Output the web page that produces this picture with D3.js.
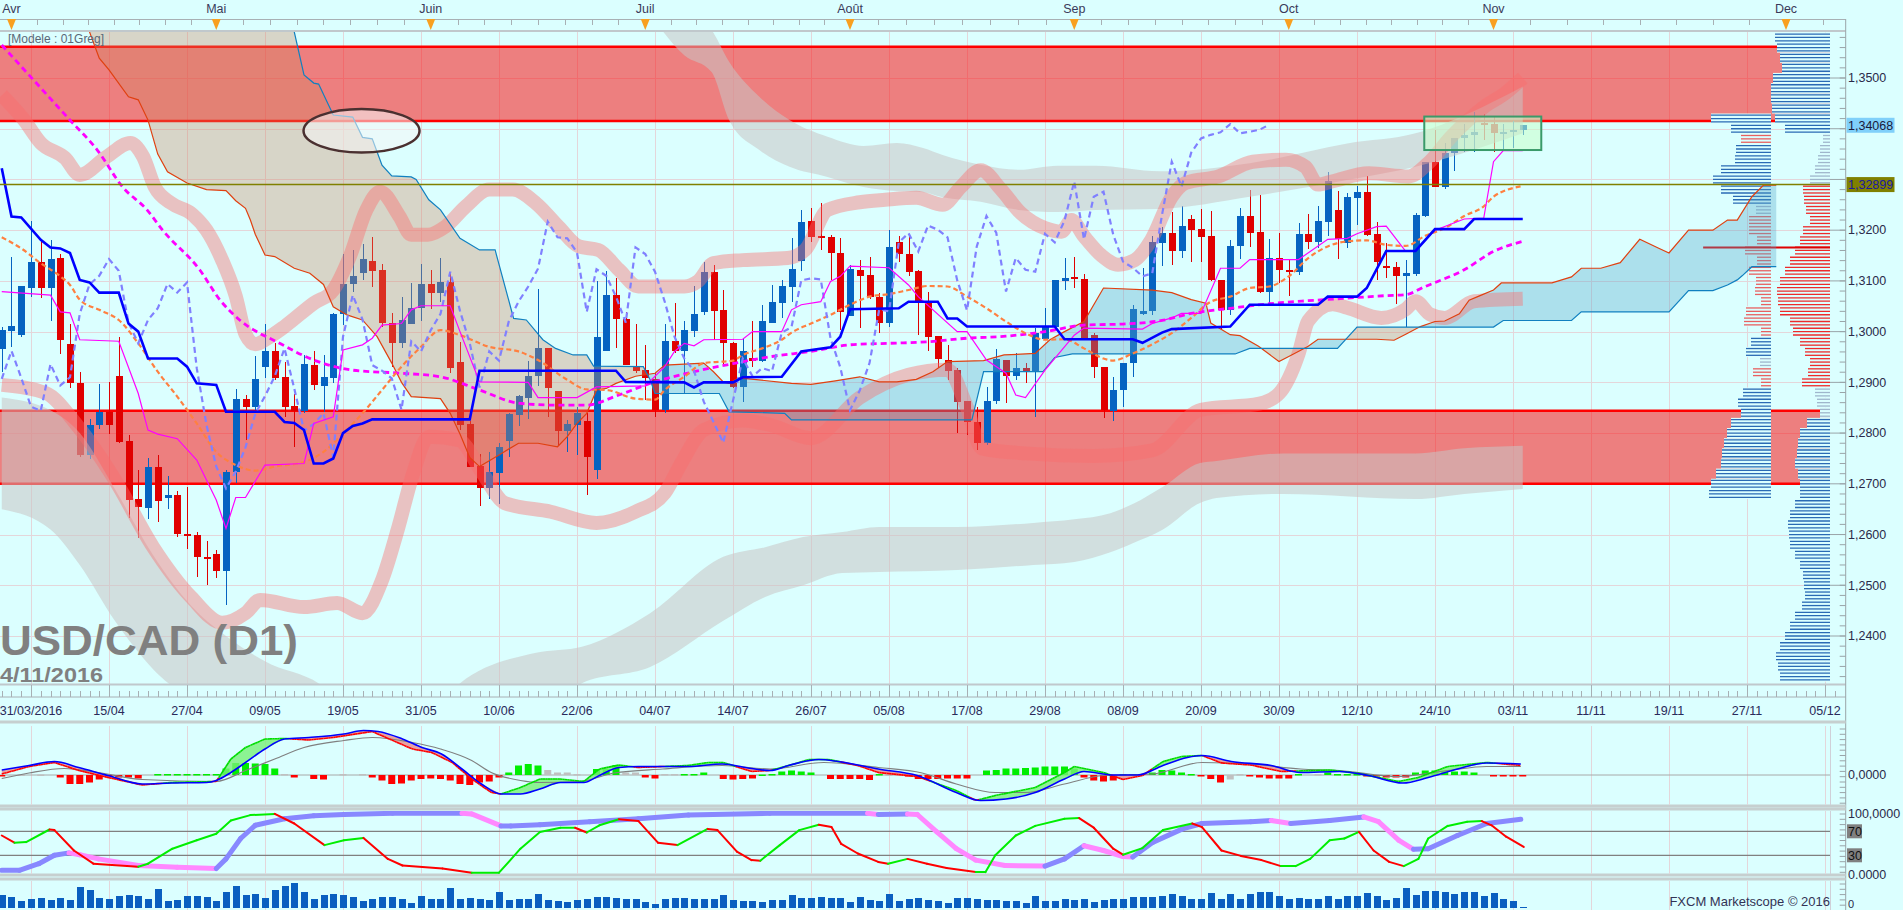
<!DOCTYPE html>
<html>
<head>
<meta charset="utf-8" />
<title>USD/CAD (D1)</title>
<script src="https://d3js.org/d3.v7.min.js"></script>
<style>
  body { margin: 0; background: #dbffff; overflow: hidden; }
  svg { display: block; }
  text { font-family: "Liberation Sans", Arial, sans-serif; }
</style>
</head>
<body>
<svg width="1903" height="910"></svg>
<script>
// ---------- data (bar index 0 = first visible candle) ----------
const dateLabels = [[3,"31/03/2016"],[11,"15/04"],[19,"27/04"],[27,"09/05"],[35,"19/05"],[43,"31/05"],
  [51,"10/06"],[59,"22/06"],[67,"04/07"],[75,"14/07"],[83,"26/07"],[91,"05/08"],[99,"17/08"],
  [107,"29/08"],[115,"08/09"],[123,"20/09"],[131,"30/09"],[139,"12/10"],[147,"24/10"],[155,"03/11"],
  [163,"11/11"],[171,"19/11"],[179,"27/11"],[187,"05/12"]];
const monthMarks = [[1,"Avr"],[22,"Mai"],[44,"Juin"],[66,"Juil"],[87,"Août"],[110,"Sep"],[132,"Oct"],[153,"Nov"],[183,"Dec"]];

const openP = [1.2965,1.3002,1.2993,1.3087,1.3137,1.3087,1.3145,1.2975,1.2898,1.2757,
1.2816,1.2842,1.2912,1.2784,1.2670,1.2653,1.2734,1.2673,1.2678,1.2602,
1.2599,1.2556,1.2561,1.2528,1.2724,1.2868,1.2852,1.2930,1.2962,1.2910,
1.2853,1.2844,1.2934,1.2893,1.2909,1.3035,1.3093,1.3115,1.3139,1.3122,
1.3018,1.2978,1.3016,1.3046,1.3094,1.3077,1.3097,1.2941,1.2818,1.2735,
1.2691,1.2722,1.2785,1.2836,1.2870,1.2912,1.2967,1.2882,1.2805,1.2816,
1.2823,1.2728,1.2962,1.3072,1.3024,1.2932,1.2924,1.2906,1.2846,1.2981,
1.2961,1.3001,1.3039,1.3118,1.3043,1.2977,1.2890,1.2949,1.2943,1.3017,
1.3057,1.3088,1.3140,1.3219,1.3188,1.3186,1.3156,1.3030,1.3122,1.3112,
1.3068,1.3018,1.3176,1.3153,1.3120,1.3059,1.2991,1.2945,1.2924,1.2864,
1.2822,1.2781,1.2864,1.2945,1.2912,1.2928,1.2922,1.2985,1.3010,1.3099,
1.3107,1.3103,1.2993,1.2930,1.2844,1.2884,1.2938,1.3035,1.3040,1.3174,
1.3194,1.3158,1.3222,1.3202,1.3188,1.3102,1.3042,1.3169,1.3228,1.3197,
1.3079,1.3145,1.3122,1.3118,1.3193,1.3176,1.3217,1.3240,1.3174,1.3264,
1.3276,1.3193,1.3130,1.3128,1.3109,1.3114,1.3227,1.3335,1.3286,1.3352,
1.3381,1.3388,1.3411,1.3410,1.3391,1.3393,1.3398];
const highP = [1.3010,1.3147,1.3089,1.3218,1.3178,1.3181,1.3153,1.3015,1.2920,1.2827,
1.2896,1.2901,1.2989,1.2796,1.2728,1.2750,1.2757,1.2715,1.2686,1.2693,
1.2605,1.2587,1.2569,1.2727,1.2886,1.2875,1.2952,1.3016,1.2978,1.2941,
1.2878,1.2954,1.2961,1.2954,1.3036,1.3153,1.3161,1.3172,1.3186,1.3133,
1.3036,1.3069,1.3095,1.3134,1.3122,1.3145,1.3117,1.2980,1.2823,1.2759,
1.2763,1.2780,1.2839,1.2875,1.2943,1.3084,1.2967,1.2882,1.2826,1.2852,
1.2839,1.3099,1.3120,1.3105,1.3039,1.3015,1.2974,1.2918,1.3016,1.3056,
1.3020,1.3090,1.3138,1.3132,1.3082,1.2980,1.2987,1.3020,1.3053,1.3092,
1.3101,1.3184,1.3240,1.3243,1.3253,1.3191,1.3184,1.3132,1.3141,1.3148,
1.3076,1.3201,1.3189,1.3189,1.3122,1.3079,1.2991,1.2974,1.2928,1.2864,
1.2852,1.2891,1.2965,1.2945,1.2957,1.2939,1.3007,1.3046,1.3102,1.3145,
1.3147,1.3114,1.2997,1.2930,1.2911,1.2938,1.3053,1.3125,1.3189,1.3206,
1.3235,1.3248,1.3230,1.3241,1.3237,1.3102,1.3181,1.3243,1.3280,1.3270,
1.3182,1.3194,1.3142,1.3214,1.3232,1.3248,1.3314,1.3278,1.3273,1.3287,
1.3307,1.3217,1.3174,1.3138,1.3142,1.3234,1.3335,1.3398,1.3371,1.3381,
1.3410,1.3432,1.3429,1.3425,1.3410,1.3416,1.3408];
const lowP = [1.2920,1.2970,1.2990,1.3069,1.3066,1.3020,1.2955,1.2888,1.2753,1.2749,
1.2809,1.2799,1.2780,1.2632,1.2594,1.2630,1.2624,1.2651,1.2595,1.2572,
1.2516,1.2500,1.2515,1.2462,1.2701,1.2787,1.2845,1.2908,1.2905,1.2832,
1.2773,1.2839,1.2885,1.2841,1.2898,1.3013,1.3079,1.3102,1.3088,1.3010,
1.2931,1.2967,1.3016,1.3020,1.3044,1.3059,1.2918,1.2806,1.2734,1.2657,
1.2671,1.2661,1.2752,1.2814,1.2827,1.2893,1.2832,1.2776,1.2763,1.2757,
1.2677,1.2710,1.2962,1.2967,1.2934,1.2919,1.2865,1.2832,1.2839,1.2957,
1.2880,1.2990,1.3033,1.2984,1.2937,1.2888,1.2862,1.2931,1.2941,1.3017,
1.3026,1.3059,1.3120,1.3176,1.3161,1.3102,1.3003,1.3030,1.3007,1.3064,
1.2998,1.3010,1.3138,1.3110,1.2993,1.2961,1.2928,1.2905,1.2801,1.2796,
1.2766,1.2776,1.2857,1.2860,1.2905,1.2899,1.2832,1.2984,1.3003,1.3082,
1.3086,1.2987,1.2908,1.2829,1.2824,1.2852,1.2911,1.3033,1.3033,1.3130,
1.3132,1.3145,1.3138,1.3138,1.3099,1.3004,1.3033,1.3143,1.3166,1.3076,
1.3051,1.3096,1.3071,1.3112,1.3163,1.3165,1.3188,1.3143,1.3165,1.3211,
1.3188,1.3102,1.3105,1.3055,1.3009,1.3109,1.3226,1.3285,1.3281,1.3316,
1.3355,1.3355,1.3377,1.3355,1.3360,1.3362,1.3388];
const closeP = [1.3004,1.3011,1.3089,1.3138,1.3087,1.3143,1.2984,1.2898,1.2757,1.2816,
1.2842,1.2815,1.2783,1.2668,1.2655,1.2734,1.2666,1.2678,1.2601,1.2597,
1.2555,1.2551,1.2528,1.2724,1.2868,1.2852,1.2907,1.2962,1.2909,1.2852,
1.2844,1.2936,1.2894,1.2910,1.3035,1.3093,1.3110,1.3143,1.3120,1.3018,
1.2977,1.3023,1.3046,1.3094,1.3077,1.3097,1.2928,1.2816,1.2734,1.2691,
1.2724,1.2772,1.2838,1.2873,1.2912,1.2967,1.2888,1.2805,1.2818,1.2839,
1.2753,1.2990,1.3072,1.3024,1.2934,1.2923,1.2908,1.2846,1.2981,1.2961,
1.3003,1.3035,1.3118,1.3041,1.2977,1.2890,1.2961,1.2943,1.3020,1.3059,
1.3089,1.3124,1.3217,1.3186,1.3184,1.3156,1.3039,1.3123,1.3110,1.3069,
1.3018,1.3166,1.3153,1.3118,1.3059,1.2990,1.2947,1.2923,1.2862,1.2822,
1.2781,1.2864,1.2947,1.2912,1.2928,1.2922,1.2998,1.3009,1.3101,1.3105,
1.3103,1.2987,1.2930,1.2845,1.2884,1.2938,1.3044,1.3040,1.3176,1.3194,
1.3158,1.3209,1.3201,1.3186,1.3101,1.3042,1.3168,1.3228,1.3195,1.3079,
1.3145,1.3122,1.3118,1.3193,1.3176,1.3219,1.3296,1.3182,1.3266,1.3276,
1.3191,1.3138,1.3126,1.3109,1.3115,1.3230,1.3335,1.3286,1.3353,1.3381,
1.3388,1.3393,1.3409,1.3391,1.3394,1.3398,1.3408];

// ichimoku lines, [bar, price]
const kijun = [[0,1.3322],[1,1.3227],[2,1.3225],[4,1.3181],[5,1.3166],[6,1.3164],[7,1.3155],[8,1.3102],[9,1.3097],[10,1.3077],[12,1.3077],[13,1.3016],[14,1.3000],[15,1.2947],[18,1.2947],[19,1.2931],[20,1.2898],[22,1.2895],[23,1.2842],[28,1.2842],[29,1.2822],[30,1.2820],[31,1.2806],[32,1.2740],[33,1.2740],[34,1.2750],[35,1.2800],[36,1.2814],[37,1.2819],[38,1.2827],[48,1.2827],[49,1.2923],[63,1.2923],[64,1.2901],[70,1.2900],[71,1.2890],[72,1.2900],[75,1.2900],[76,1.2910],[80,1.2911],[82,1.2961],[85,1.2969],[86,1.2990],[87,1.3044],[92,1.3046],[93,1.3059],[96,1.3059],[97,1.3026],[98,1.3026],[99,1.3010],[108,1.3010],[109,1.2985],[116,1.2985],[117,1.2978],[119,1.2998],[120,1.3005],[126,1.3010],[128,1.3053],[135,1.3053],[136,1.3069],[139,1.3069],[140,1.3086],[142,1.3159],[145,1.3159],[147,1.3202],[150,1.3202],[151,1.3222],[156,1.3222]];
const tenkan = [[0,1.3079],[5,1.3072],[6,1.3039],[7,1.3037],[8,1.2984],[12,1.2981],[14,1.2878],[15,1.2806],[16,1.2798],[18,1.2789],[20,1.2747],[22,1.2668],[23,1.2612],[24,1.2673],[25,1.2673],[27,1.2737],[31,1.2740],[32,1.2819],[34,1.2832],[35,1.2964],[37,1.2974],[38,1.2987],[39,1.3013],[41,1.3016],[42,1.3043],[43,1.3051],[46,1.3051],[47,1.3000],[49,1.2901],[54,1.2900],[55,1.2870],[59,1.2870],[61,1.2891],[66,1.2893],[68,1.2931],[69,1.2961],[70,1.2977],[71,1.2972],[72,1.2984],[76,1.2985],[77,1.3000],[80,1.3000],[81,1.3043],[82,1.3053],[84,1.3059],[85,1.3099],[86,1.3109],[87,1.3129],[91,1.3126],[93,1.3092],[94,1.3069],[98,1.3000],[99,1.3000],[101,1.2944],[103,1.2918],[104,1.2875],[105,1.2870],[107,1.2924],[110,1.2993],[111,1.3007],[117,1.3005],[118,1.3016],[120,1.3027],[121,1.3036],[123,1.3036],[125,1.3125],[127,1.3125],[128,1.3142],[133,1.3142],[136,1.3182],[138,1.3184],[139,1.3193],[141,1.3207],[142,1.3208],[144,1.3158],[145,1.3159],[147,1.3200],[150,1.3222],[152,1.3224],[153,1.3335],[154,1.3357],[156,1.3357]];
const senkouA = [[0,1.3750],[8,1.3620],[9,1.3591],[10,1.3539],[11,1.3516],[13,1.3463],[14,1.3457],[15,1.3417],[16,1.3350],[17,1.3315],[19,1.3293],[21,1.3280],[23,1.3278],[24,1.3258],[25,1.3243],[25.5,1.3220],[26,1.3192],[27,1.3151],[28,1.3148],[30,1.3125],[31.6,1.3115],[33,1.3093],[34,1.3049],[35.4,1.3033],[37,1.3023],[38.5,1.2990],[40,1.2938],[41,1.2900],[42,1.2872],[45,1.2868],[46,1.2839],[47,1.2798],[48,1.2752],[49,1.2734],[51,1.2757],[53,1.2780],[55,1.2780],[57,1.2773],[58,1.2793],[59,1.2819],[60,1.2839],[61,1.2885],[62,1.2888],[63,1.2898],[65,1.2912],[67,1.2918],[68,1.2934],[72,1.2938],[73,1.2921],[74,1.2901],[74.6,1.2898],[75.6,1.2909],[81,1.2898],[83,1.2896],[85.5,1.2903],[88,1.2911],[90,1.2901],[91.8,1.2901],[93.8,1.2906],[95.5,1.2921],[97,1.2941],[100.7,1.2943],[102.8,1.2954],[106,1.2957],[107.5,1.2984],[109,1.3000],[111,1.3020],[113,1.3086],[118,1.3082],[120,1.3077],[122,1.3063],[123.5,1.3056],[124,1.3017],[126,1.2994],[127,1.2992],[128.9,1.2971],[131,1.2941],[132,1.2951],[134,1.2971],[135,1.2985],[141,1.2985],[142.8,1.2983],[144,1.2995],[145.5,1.3010],[147,1.3020],[148,1.3021],[149.5,1.3035],[150.5,1.3062],[151.5,1.3070],[153,1.3082],[153.8,1.3096],[159,1.3096],[161,1.3108],[162,1.3125],[164,1.3125],[166,1.3136],[168,1.3182],[170,1.3164],[171,1.3155],[173,1.3200],[175.5,1.3200],[177,1.3220],[178,1.3220],[179.5,1.3266],[180.7,1.3289],[182,1.3289]];
const senkouB = [[0,1.3800],[29,1.3700],[30,1.3591],[31,1.3506],[32,1.3490],[32.5,1.3488],[34,1.3427],[36,1.3423],[37,1.3383],[38,1.3380],[39,1.3328],[40,1.3307],[42,1.3305],[42.5,1.3300],[43.8,1.3260],[45,1.3240],[47,1.3184],[49,1.3161],[50.6,1.3161],[52.5,1.3026],[53.8,1.3023],[55.5,1.2984],[56.8,1.2967],[58.6,1.2954],[60,1.2954],[60.7,1.2932],[65.8,1.2931],[66.5,1.2905],[67,1.2878],[73.6,1.2878],[74.6,1.2842],[80.3,1.2839],[81,1.2826],[99.5,1.2826],[100.7,1.2921],[106.8,1.2921],[108,1.2949],[109.8,1.2956],[126.5,1.2956],[128,1.2967],[137,1.2967],[139,1.3009],[153,1.3009],[154,1.3022],[161,1.3022],[162,1.3039],[171,1.3039],[173,1.3081],[175.5,1.3081],[177,1.3092],[178,1.3102],[178.5,1.3110],[179.5,1.3128],[182,1.3128]];

// moving averages
const maOrange = [[0,1.3186],[2,1.3164],[4,1.3135],[6,1.3109],[7,1.3092],[8,1.3063],[10,1.3043],[12,1.3023],[14,1.2977],[16,1.2921],[18,1.2872],[20,1.2819],[22,1.2763],[24,1.2737],[26,1.2726],[28,1.2734],[31,1.2743],[33,1.2763],[35,1.2799],[37,1.2839],[39,1.2885],[41,1.2931],[43,1.2970],[45,1.3003],[47,1.2993],[50,1.2970],[53,1.2961],[55,1.2944],[58,1.2905],[60,1.2886],[62,1.2885],[65,1.2868],[67,1.2866],[68,1.2885],[70,1.2911],[72,1.2938],[75,1.2943],[76,1.2954],[78,1.2967],[80,1.2984],[81,1.2998],[83,1.3016],[85,1.3033],[87,1.3053],[89,1.3069],[91,1.3074],[93,1.3082],[95,1.3090],[97,1.3089],[99,1.3069],[101,1.3046],[103,1.3020],[105,1.2997],[107,1.2984],[109,1.2985],[111,1.2967],[113,1.2947],[114,1.2943],[116,1.2957],[118,1.2975],[120,1.2997],[122,1.3027],[124,1.3059],[126,1.3069],[128,1.3086],[130,1.3089],[132,1.3109],[134,1.3145],[136,1.3168],[138,1.3178],[140,1.3180],[142,1.3171],[144,1.3169],[146,1.3189],[148,1.3204],[150,1.3228],[152,1.3247],[153,1.3266],[156,1.3287]];
const maMagenta = [[0,1.3565],[7,1.3417],[9.8,1.3358],[12.4,1.3285],[14.9,1.3240],[16.5,1.3200],[20.3,1.3122],[22.4,1.3062],[24.4,1.3023],[28.5,1.2977],[32,1.2944],[36,1.2924],[41,1.2918],[45,1.2911],[49,1.2885],[53,1.2859],[57,1.2855],[60,1.2855],[63,1.2873],[67,1.2901],[71,1.2921],[75,1.2937],[79,1.2951],[83,1.2961],[87,1.2974],[91,1.2977],[95,1.2980],[99,1.2987],[103,1.2991],[107,1.3000],[111,1.3013],[115,1.3015],[119,1.3022],[122,1.3036],[126,1.3046],[130,1.3055],[134,1.3061],[138,1.3066],[142,1.3071],[144,1.3073],[146,1.3089],[150,1.3122],[153,1.3158],[156,1.3178]];

// envelope bands: pink = [bar, centre], gray = [bar, top, bottom]
const pinkUpper = [[0,1.3466],[2.3,1.3417],[4,1.3372],[6.5,1.3342],[8,1.3309],[10.7,1.3344],[13.2,1.3372],[14.5,1.3345],[15.7,1.3285],[17.4,1.3253],[19.5,1.3232],[21,1.3200],[22.6,1.3141],[24,1.3070],[25,1.2995],[26,1.2975],[27.5,1.2990],[29,1.3010],[32,1.3056],[34,1.3082],[35.7,1.3148],[37.4,1.3240],[38.8,1.3276],[40.8,1.3227],[42,1.3191],[43.7,1.3191],[45.5,1.3207],[47.6,1.3247],[50,1.3280],[52.4,1.3280],[54.8,1.3253],[57.1,1.3207],[59.2,1.3168],[61.2,1.3161],[63.3,1.3122],[65.3,1.3089],[70,1.3089],[71.4,1.3099],[73,1.3135],[76,1.3141],[80.6,1.3145],[82.4,1.3161],[84.7,1.3240],[88,1.3255],[90.6,1.3260],[93.8,1.3264],[96.5,1.3250],[98.4,1.3286],[100.4,1.3318],[102.5,1.3280],[104.5,1.3234],[107,1.3204],[108.7,1.3197],[109.7,1.3220],[111,1.3188],[112.8,1.3150],[114.5,1.3132],[116.2,1.3141],[117.9,1.3181],[120,1.3266],[121.4,1.3293],[124.8,1.3306],[128.3,1.3335],[131.7,1.3339],[133.7,1.3325],[135,1.3290],[136.4,1.3296],[140.2,1.3312],[144.3,1.3306],[146.3,1.3332],[148.7,1.3385],[150.4,1.3417],[152.1,1.3444],[154.2,1.3470],[156,1.3500]];
const pinkLower = [[0,1.2895],[4.5,1.2879],[7.7,1.2816],[11.6,1.2708],[15.5,1.2576],[19.4,1.2477],[22.6,1.2426],[25,1.2445],[26.5,1.2471],[31,1.2457],[34.4,1.2465],[37,1.2445],[39,1.2510],[40.6,1.2609],[42.2,1.2721],[43.8,1.2793],[46.9,1.2786],[49.3,1.2721],[51.6,1.2662],[56.3,1.2645],[61,1.2623],[65,1.2645],[68,1.2682],[69.7,1.2741],[72,1.2806],[76,1.2825],[79,1.2815],[83,1.2790],[88,1.2870],[93,1.2915],[97,1.2925],[99,1.2850],[100.5,1.2770],[105,1.2760],[112,1.2755],[118,1.2766],[123,1.2846],[129,1.2858],[131,1.2878],[133,1.2956],[134,1.3021],[136.5,1.3054],[138,1.3047],[141.5,1.3027],[144,1.3044],[145,1.3060],[146.5,1.3034],[148,1.3027],[151,1.3060],[156,1.3065]];
const grayUpper = [[66,1.3760,1.3640],[70,1.3644,1.3545],[72.8,1.3595,1.3512],[74.6,1.3532,1.3417],[77.7,1.3463,1.3358],[80.8,1.3417,1.3325],[84.7,1.3384,1.3305],[88.4,1.3366,1.3285],[91.8,1.3372,1.3277],[94.5,1.3362,1.3275],[96.5,1.3348,1.3265],[100.4,1.3329,1.3256],[104.3,1.3319,1.3240],[108.3,1.3327,1.3236],[112.2,1.3327,1.3240],[118.8,1.3316,1.3242],[128,1.3332,1.3266],[138,1.3371,1.3299],[145,1.3391,1.3325],[152,1.3444,1.3365],[156,1.3483,1.3391]];
const grayLower = [[0,1.2870,1.2650],[5,1.2845,1.2610],[8,1.2800,1.2540],[11.6,1.2690,1.2430],[15.5,1.2560,1.2335],[19.4,1.2460,1.2270],[23,1.2400,1.2200],[27,1.2350,1.2150],[33,1.2300,1.2100],[38,1.2200,1.2000],[44,1.2220,1.2050],[47,1.2307,1.2170],[54.8,1.2367,1.2240],[59.5,1.2379,1.2307],[66.5,1.2445,1.2339],[74,1.2556,1.2430],[78.3,1.2575,1.2477],[82.2,1.2595,1.2500],[86.2,1.2605,1.2524],[90,1.2615,1.2526],[98,1.2615,1.2530],[105.8,1.2623,1.2540],[110,1.2630,1.2546],[113.7,1.2642,1.2565],[116,1.2660,1.2583],[119.1,1.2694,1.2610],[122.9,1.2741,1.2662],[124.6,1.2745,1.2672],[131.4,1.2760,1.2680],[145,1.2760,1.2670],[150,1.2770,1.2680],[156,1.2775,1.2690]];

// horizontal zones and levels
const redZones = [[1.35617, 1.34152], [1.28442, 1.27000]];
const pivotLevel = 1.32899;
const lastPrice = 1.34068;
const pocLevel = [174.5, 1.3166];
const ellipseNote = {bar: 36.9, price: 1.3396, halfBars: 5.95, halfPrice: 0.0043};
const boxNote = {bar0: 145.9, bar1: 157.9, top: 1.3424, bottom: 1.3358};

// volume profiles [price, volume, kind] (b blue, g light, r red)
const profileRight = [[1.358,55,"b"],[1.356,53,"b"],[1.354,50,"b"],[1.352,48,"b"],[1.350,57,"b"],[1.348,59,"b"],[1.346,59,"b"],[1.344,58,"b"],[1.342,55,"b"],[1.340,45,"b"],
[1.338,7,"g"],[1.336,10,"g"],[1.334,12,"g"],[1.332,15,"g"],[1.330,20,"g"],[1.328,27,"r"],[1.326,26,"r"],[1.324,24,"r"],[1.322,20,"r"],[1.320,27,"r"],
[1.318,30,"r"],[1.316,35,"r"],[1.314,40,"r"],[1.312,45,"r"],[1.310,50,"r"],[1.308,53,"r"],[1.306,52,"r"],[1.304,50,"r"],[1.302,40,"r"],[1.300,37,"r"],
[1.298,30,"r"],[1.296,25,"r"],[1.294,20,"r"],[1.292,22,"r"],[1.290,28,"r"],[1.288,15,"g"],[1.286,13,"g"],[1.284,10,"g"],[1.282,23,"b"],[1.280,30,"b"],
[1.278,32,"b"],[1.276,33,"b"],[1.274,35,"b"],[1.272,32,"b"],[1.270,30,"b"],[1.268,30,"b"],[1.266,35,"b"],[1.264,40,"b"],[1.262,42,"b"],[1.260,41,"b"],
[1.258,40,"b"],[1.256,35,"b"],[1.254,30,"b"],[1.252,27,"b"],[1.250,26,"b"],[1.248,25,"b"],[1.246,28,"b"],[1.244,35,"b"],[1.242,40,"b"],[1.240,45,"b"],
[1.238,50,"b"],[1.236,54,"b"],[1.234,52,"b"],[1.232,50,"b"]];
const profileLeft = [[1.342,60,"b"],[1.340,40,"b"],[1.338,30,"r"],[1.336,35,"b"],[1.334,36,"b"],[1.332,50,"b"],[1.330,58,"b"],[1.328,50,"b"],[1.326,38,"b"],[1.324,15,"g"],
[1.322,22,"r"],[1.320,22,"r"],[1.318,14,"r"],[1.316,26,"r"],[1.314,14,"r"],[1.312,22,"r"],[1.310,15,"r"],[1.308,16,"r"],[1.306,10,"r"],[1.304,25,"r"],
[1.302,27,"r"],[1.300,10,"r"],[1.298,20,"b"],[1.296,25,"b"],[1.294,11,"g"],[1.292,18,"r"],[1.290,10,"r"],[1.288,28,"b"],[1.286,33,"b"],[1.284,30,"b"],
[1.282,40,"b"],[1.280,44,"b"],[1.278,47,"b"],[1.276,49,"b"],[1.274,50,"b"],[1.272,55,"b"],[1.270,60,"b"],[1.268,62,"b"]];

// MACD panel
const macdLine = [[0,0.0010],[2.8,0.0019],[5.4,0.0027],[7.9,0.0015],[10.9,-0.0001],[14.4,-0.0018],[17.4,-0.0016],[21,-0.0015],[22,-0.0011],[23.5,0.0005],[25,0.0025],[27,0.0052],[29,0.0072],[31.5,0.0075],[35.1,0.0082],[37.1,0.0089],[38.6,0.0087],[41.1,0.0072],[43.1,0.0055],[45.1,0.0042],[47.2,0.0012],[49.2,-0.0018],[51.2,-0.0038],[53.2,-0.0038],[55.2,-0.0028],[57.3,-0.0015],[59.7,-0.0015],[61.3,-0.0001],[63.3,0.0015],[65.3,0.0017],[70.4,0.0017],[73.9,0.0022],[76.9,0.0013],[78.8,0.0009],[80.7,0.0019],[83.8,0.0031],[85.8,0.0027],[89.9,0.0012],[93.9,-0.0001],[97.9,-0.0035],[100.4,-0.0051],[103,-0.0048],[106,-0.0035],[109,-0.0008],[111,0.0007],[114,0],[116.5,0],[119.1,0.0019],[121.6,0.0035],[123.1,0.0039],[126.1,0.0027],[130.2,0.0019],[133.2,0.0005],[137.2,0.0007],[140.2,-0.0001],[143.7,-0.0016],[146.3,-0.0005],[149.3,0.0012],[152.3,0.0024],[155.8,0.0022]];
const macdFast = [[0,0.0002],[2.8,0.0017],[5.4,0.0025],[7.9,0.0009],[10.9,-0.0005],[14.4,-0.0020],[17.4,-0.0015],[22,-0.0013],[23.5,0.0032],[25,0.0055],[27,0.0072],[29,0.0073],[31.5,0.0070],[34,0.0075],[38,0.0087],[40.1,0.0069],[42.1,0.0052],[44.1,0.0045],[46.2,0.0025],[48.2,-0.0008],[50.2,-0.0035],[51.2,-0.0038],[53.2,-0.0025],[55.2,-0.0008],[57.3,-0.0008],[59.7,-0.0013],[61.3,0.0012],[63.3,0.0020],[65.3,0.0015],[70.4,0.0019],[72.4,0.0025],[74,0.0025],[76.9,0.0007],[78.8,0.0009],[80.7,0.0019],[82.8,0.0031],[84.8,0.0031],[87.8,0.0019],[89.9,0.0005],[93.9,-0.0003],[97.9,-0.0031],[99.9,-0.0051],[101.9,-0.0041],[106,-0.0025],[109,0.0005],[110,0.0017],[113,0.0005],[115,-0.0009],[117,-0.0001],[119.1,0.0027],[121,0.0037],[123.1,0.0039],[125.1,0.0024],[128.1,0.0020],[131.2,0.0007],[136.2,0.0010],[139.2,0.0003],[143.2,-0.0013],[145.3,-0.0005],[148.3,0.0017],[152.3,0.0025],[155.8,0.0019]];
const macdSignal = [[0,-0.0007],[2.8,0.0004],[6.4,0.0013],[9.9,0.0005],[14.4,-0.0009],[22,-0.0013],[25,0.0009],[28,0.0032],[31,0.0055],[35.1,0.0069],[38,0.0075],[42.1,0.0065],[45,0.0052],[48.2,0.0029],[50.2,0.0005],[53.2,-0.0011],[55.2,-0.0015],[59.3,-0.0013],[62.8,0.0004],[67.8,0.0012],[73.9,0.0019],[78.8,0.0012],[84.3,0.0025],[89.9,0.0015],[94.4,0.0004],[97.9,-0.0018],[101.9,-0.0035],[105,-0.0035],[109,-0.0018],[113,-0.0001],[118,0.0002],[123.1,0.0025],[128.1,0.0022],[133.2,0.0012],[137.2,0.0009],[143.2,-0.0003],[148.3,0.0009],[152.3,0.0017],[155.8,0.0017]];
const macdHist = [-2,0,1,0,1,0,-5,-18,-18,-15,-9,-5,-5,-5,-7,0,2,2,2,2,
2,2,2,13,24,24,23,22,13,2,-5,0,-8,-9,0,2,0,2,-5,-11,
-18,-17,-11,-8,-7,-8,-11,-18,-20,-15,-13,-5,5,19,22,19,10,5,5,2,
0,12,12,20,5,5,-5,-7,2,2,2,2,5,0,-8,-9,-8,-7,1,2,
7,9,7,5,0,-8,-8,-8,-8,-10,2,1,0,-3,-8,-8,-8,-7,-7,-7,
0,9,10,13,13,14,15,17,17,17,13,-5,-11,-13,-11,2,2,0,5,10,
9,5,2,-2,-8,-15,-9,2,-3,-5,-7,-7,-7,2,0,2,5,2,2,2,
-1,-3,-5,-5,-5,5,9,9,9,7,7,5,0,-3,-3,-3,-3];
const macdHistGray = [2,4,29,35,37,56,57,58,59,64,65,68,69,91,126,127,135];

// stochastic panel
const stochFast = [[0,63],[1.3,51],[2.5,52],[4.9,73],[5.4,72],[7.4,38],[9.4,16],[14,11],[15,16],[17.5,41],[20,55],[22,66],[23.5,88],[25.5,97],[28,99],[30,83],[33.1,47],[35.1,55],[37.1,59],[39.6,24],[41.1,13],[45.2,8],[48.2,1],[51,1],[53.2,41],[55.2,69],[57.3,76],[58.8,76],[60,68],[61.3,80],[63.3,90],[65.3,87],[67.3,51],[69.3,47],[72.4,74],[73.4,72],[75.4,36],[76.9,22],[77.8,21],[79.8,47],[81.8,72],[83.8,81],[85.1,77],[86.1,49],[87.8,33],[89.9,19],[90.9,16],[92.9,24],[94.9,16],[96.9,9],[99.9,2],[100.9,2],[101.9,30],[104,63],[106,79],[109,91],[110.5,92],[112,76],[114,41],[115,31],[117,42],[119.1,72],[122.1,83],[123.1,77],[125.1,38],[127.1,29],[129.2,22],[131.2,12],[132.7,12],[134.2,24],[136.2,55],[137.7,58],[139.2,69],[140.7,38],[142.3,19],[143.8,12],[145.3,24],[146.3,58],[148.3,79],[150.3,86],[151.8,87],[152.8,80],[154.3,61],[156.1,44]];
const stochSlow = [[0,5],[1.8,5],[3.8,16],[5.4,30],[6.9,34],[8,31],[9.9,24],[14,13],[18,10],[22,8],[23,24],[24.5,58],[26,80],[29,91],[32,96],[35.1,98],[40.1,100],[47.2,100],[48.2,99],[51.2,79],[52.2,79],[55.2,81],[60.3,86],[65.3,91],[70.4,97],[78.8,100],[88.8,100],[89.9,98],[92.9,99],[93.9,98],[95.9,69],[97.9,41],[99.9,22],[102.9,13],[107,12],[109,24],[111,46],[113,38],[115,28],[116,27],[118.1,52],[121.1,74],[123.1,83],[128.1,86],[130.2,88],[132.2,83],[136.2,88],[139.7,94],[141.2,86],[143.3,55],[144.8,40],[146.3,41],[149.3,63],[152.3,83],[155.8,90]];

// tick volume
const volume = [40,33,20,28,30,23,30,25,63,53,30,28,36,38,36,28,58,21,25,36,
36,33,20,48,66,38,41,30,53,65,74,48,28,38,41,38,33,20,28,33,
33,28,15,36,28,28,61,28,30,28,23,48,23,28,28,43,23,20,18,23,
28,33,33,30,28,26,18,13,26,30,30,26,26,28,38,25,20,20,18,25,
23,38,30,30,33,30,30,18,33,23,21,41,21,26,30,23,20,15,30,30,
26,25,23,21,21,15,36,21,21,26,23,28,18,25,28,28,33,33,33,36,
41,36,26,28,45,28,41,28,41,48,48,36,28,30,28,28,36,28,36,36,
45,36,25,31,60,38,51,50,48,43,48,48,36,45,28,21,3];

// ---------- scales ----------
const BG = "#dbffff";
const svg = d3.select("svg");
const x = d3.scaleLinear().domain([0, 187]).range([1.75, 1825]);
const y = d3.scaleLinear().domain([1.24, 1.35]).range([636, 78]);
const yMacd = d3.scaleLinear().domain([-0.006, 0.010]).range([805, 725]);
const yStoch = d3.scaleLinear().domain([0, 100]).range([873.3, 813.3]);
const yVol = d3.scaleLinear().domain([0, 80]).range([908, 881.3]);
const profW = d3.scaleLinear().domain([0, 100]).range([0, 100]);
const PR = 1830, AX = 1845.7;

function lerpSeries(pts, t) {
  if (t <= pts[0][0]) return pts[0][1];
  for (let k = 1; k < pts.length; k++) {
    if (t <= pts[k][0]) {
      const [a, va] = pts[k - 1], [b, vb] = pts[k];
      return va + (vb - va) * (t - a) / (b - a);
    }
  }
  return pts[pts.length - 1][1];
}

const defs = svg.append("defs");
const clip = (id, y0, y1) => defs.append("clipPath").attr("id", id)
  .append("rect").attr("x", 0).attr("y", y0).attr("width", PR).attr("height", y1 - y0);
clip("cMain", 32, 684); clip("cMacd", 726, 805); clip("cStoch", 811, 874); clip("cVol", 881, 910);

svg.append("rect").attr("width", 1903).attr("height", 910).attr("fill", BG);

// ---------- main panel ----------
const g = svg.append("g").attr("clip-path", "url(#cMain)");
const gridColor = "#e4d6da";
d3.range(1.24, 1.3501, 0.01).forEach(p => g.append("line").attr("x1", 0).attr("x2", PR)
  .attr("y1", Math.round(y(p)) + 0.5).attr("y2", Math.round(y(p)) + 0.5).attr("stroke", gridColor));
dateLabels.forEach(([i]) => g.append("line").attr("x1", Math.round(x(i)) + 0.5).attr("x2", Math.round(x(i)) + 0.5)
  .attr("y1", 32).attr("y2", 684).attr("stroke", gridColor));

// red zones
redZones.forEach(([top, bot]) => {
  g.append("rect").attr("x", 0).attr("width", PR).attr("y", y(top)).attr("height", y(bot) - y(top))
    .attr("fill", "rgba(255,0,0,0.5)");
  [top, bot].forEach(p => g.append("line").attr("x1", 0).attr("x2", PR).attr("y1", y(p)).attr("y2", y(p))
    .attr("stroke", "#ff0000").attr("stroke-width", 2.5));
});

// volume profiles
const profColors = {b: "#2a6ab4", g: "#9fb6cc", r: "#ee2a2a"};
function drawProfile(rows, anchor, colors) {
  rows.forEach(([p, v, k]) => {
    const w = profW(v), yc = y(p), h = y(p - 0.001) - y(p + 0.001);
    g.append("rect").attr("x", anchor - w).attr("y", yc - h / 2).attr("width", w).attr("height", h).attr("fill", BG);
    [-1, 0, 1].forEach(o => g.append("line").attr("x1", anchor - w).attr("x2", anchor)
      .attr("y1", yc + o * h / 3).attr("y2", yc + o * h / 3).attr("stroke", colors[k]).attr("stroke-width", 1.3));
  });
}
drawProfile(profileRight, PR, profColors);
drawProfile(profileLeft, 1771, {b: "#2a6ab4", g: "#9fb6cc", r: "#e86060"});
g.append("line").attr("x1", x(pocLevel[0])).attr("x2", PR).attr("y1", y(pocLevel[1])).attr("y2", y(pocLevel[1]))
  .attr("stroke", "#e00000").attr("stroke-width", 2);
g.append("line").attr("x1", PR + 0.5).attr("x2", PR + 0.5).attr("y1", 32).attr("y2", 684).attr("stroke", "#d0d0d8");

// candles
const candles = d3.range(openP.length).map(i => ({i, o: openP[i], h: highP[i], l: lowP[i], c: closeP[i]}));
const cg = g.append("g").attr("shape-rendering", "crispEdges");
candles.forEach(d => {
  const col = d.c >= d.o ? "#0563c1" : "#e00000";
  const cx = Math.round(x(d.i));
  cg.append("line").attr("x1", cx + 0.5).attr("x2", cx + 0.5).attr("y1", y(d.h)).attr("y2", y(d.l)).attr("stroke", col);
  const top = y(Math.max(d.o, d.c)), bot = y(Math.min(d.o, d.c));
  cg.append("rect").attr("x", cx - 3).attr("width", 7).attr("y", top).attr("height", Math.max(2, bot - top)).attr("fill", col);
});

// ichimoku cloud
const cloud = d3.range(0, 182.001, 0.25).map(t => ({t, a: lerpSeries(senkouA, t), b: lerpSeries(senkouB, t)}));
g.append("path").datum(cloud).attr("fill", "rgba(210,135,98,0.35)")
  .attr("d", d3.area().x(d => x(d.t)).y0(d => y(d.a)).y1(d => y(Math.max(d.a, d.b))));
g.append("path").datum(cloud).attr("fill", "rgba(85,166,201,0.35)")
  .attr("d", d3.area().x(d => x(d.t)).y0(d => y(d.b)).y1(d => y(Math.max(d.a, d.b))));

// envelope bands
const bandArea = d3.area().x(d => x(d[0])).y0(d => y(d[2])).y1(d => y(d[1])).curve(d3.curveMonotoneX);
g.append("path").datum(grayUpper).attr("fill", "rgba(200,196,196,0.55)").attr("d", bandArea);
g.append("path").datum(grayLower).attr("fill", "rgba(200,196,196,0.55)").attr("d", bandArea);
const centreLine = d3.line().x(d => x(d[0])).y(d => y(d[1])).curve(d3.curveMonotoneX);
[pinkUpper, pinkLower].forEach(b => g.append("path").datum(b).attr("fill", "none")
  .attr("stroke", "rgba(250,110,110,0.42)").attr("stroke-width", 14).attr("stroke-linejoin", "round").attr("d", centreLine));

// indicator lines
const lin = d3.line().x(d => x(d[0])).y(d => y(d[1]));
const addLine = (pts, col, w, dash, curve) => g.append("path").datum(pts).attr("fill", "none")
  .attr("stroke", col).attr("stroke-width", w).attr("stroke-dasharray", dash || null)
  .attr("d", curve ? centreLine : lin);
addLine(senkouA, "#e04010", 1.2);
addLine(senkouB, "#1080c0", 1.2);
addLine(maMagenta, "#ff00ff", 2.8, "6,4", true);
addLine(maOrange, "#ff8040", 2.2, "5,3", true);
addLine(closeP.slice(26).map((c, k) => [k, c]), "#8080ff", 2.2, "6,4");
addLine(tenkan, "#ff00ff", 1.2);
addLine(kijun, "#0000ff", 2.6);
g.append("line").attr("x1", 0).attr("x2", PR).attr("y1", y(pivotLevel)).attr("y2", y(pivotLevel))
  .attr("stroke", "#808000").attr("stroke-width", 1.5);

// annotations
g.append("ellipse").attr("cx", x(ellipseNote.bar)).attr("cy", y(ellipseNote.price))
  .attr("rx", x(ellipseNote.bar + ellipseNote.halfBars) - x(ellipseNote.bar))
  .attr("ry", y(ellipseNote.price - ellipseNote.halfPrice) - y(ellipseNote.price))
  .attr("fill", "rgba(245,245,245,0.55)").attr("stroke", "#4a3030").attr("stroke-width", 2.5);
g.append("rect").attr("x", x(boxNote.bar0)).attr("y", y(boxNote.top))
  .attr("width", x(boxNote.bar1) - x(boxNote.bar0)).attr("height", y(boxNote.bottom) - y(boxNote.top))
  .attr("fill", "rgba(200,255,200,0.55)").attr("stroke", "#3a9a6a").attr("stroke-width", 2);

g.append("text").attr("x", 8).attr("y", 43).attr("font-size", 12).attr("fill", "#5a6878").text("[Modele : 01Greg]");
g.append("text").attr("x", 0).attr("y", 655).attr("font-size", 42).attr("font-weight", "bold").attr("fill", "#808080")
  .attr("textLength", 298).attr("lengthAdjust", "spacingAndGlyphs").text("USD/CAD (D1)");
g.append("text").attr("x", 0).attr("y", 682).attr("font-size", 20).attr("font-weight", "bold").attr("fill", "#808080")
  .attr("textLength", 103).attr("lengthAdjust", "spacingAndGlyphs").text("4/11/2016");

// ---------- top month axis ----------
const axisGray = "#a8b0b4";
svg.append("line").attr("x1", 0).attr("x2", AX).attr("y1", 19.5).attr("y2", 19.5).attr("stroke", axisGray);
svg.append("line").attr("x1", 0).attr("x2", AX).attr("y1", 31).attr("y2", 31).attr("stroke", "#c0c8cc").attr("stroke-width", 2);
const mx = monthMarks.map(d => x(d[0]));
const monthTicks = [];
for (let k = 0; k < mx.length - 1; k++) for (let s = 0; s < 8; s++) monthTicks.push(mx[k] + (mx[k + 1] - mx[k]) * s / 8);
const lastStep = (mx[mx.length - 1] - mx[mx.length - 2]) / 8;
for (let t = mx[mx.length - 1]; t < AX; t += lastStep) monthTicks.push(t);
monthTicks.forEach(t => svg.append("line").attr("x1", Math.round(t) + 0.5).attr("x2", Math.round(t) + 0.5)
  .attr("y1", 19).attr("y2", 25).attr("stroke", axisGray));
monthMarks.forEach(([i, lab]) => {
  const cx = x(i);
  svg.append("path").attr("d", `M${cx - 4.5},19 L${cx + 4.5},19 L${cx},30 Z`).attr("fill", "#f8a020");
  svg.append("text").attr("x", cx).attr("y", 13).attr("text-anchor", "middle").attr("font-size", 12.5)
    .attr("fill", "#3a3a5a").text(lab);
});

// ---------- bottom date axis ----------
svg.append("line").attr("x1", 0).attr("x2", AX).attr("y1", 684.5).attr("y2", 684.5).attr("stroke", "#c0c8cc").attr("stroke-width", 2);
svg.append("line").attr("x1", 0).attr("x2", AX).attr("y1", 697).attr("y2", 697).attr("stroke", axisGray);
d3.range(0, 189).forEach(i => svg.append("line").attr("x1", Math.round(x(i)) + 0.5).attr("x2", Math.round(x(i)) + 0.5)
  .attr("y1", 691).attr("y2", 697).attr("stroke", axisGray));
dateLabels.forEach(([i, lab]) => {
  svg.append("line").attr("x1", Math.round(x(i)) + 0.5).attr("x2", Math.round(x(i)) + 0.5)
    .attr("y1", 685).attr("y2", 697).attr("stroke", axisGray);
  svg.append("text").attr("x", x(i)).attr("y", 715).attr("text-anchor", "middle").attr("font-size", 12.5)
    .attr("fill", "#2a2a5a").text(lab);
});

// ---------- right price axis ----------
svg.append("line").attr("x1", AX).attr("x2", AX).attr("y1", 19).attr("y2", 910).attr("stroke", "#9aa4a8");
d3.range(1.232, 1.3581, 0.002).forEach(p => svg.append("line").attr("x1", AX - 6).attr("x2", AX)
  .attr("y1", y(p)).attr("y2", y(p)).attr("stroke", "#9aa4a8"));
const fmt = d3.format(".4f");
d3.range(1.24, 1.3501, 0.01).forEach(p => {
  svg.append("line").attr("x1", PR).attr("x2", AX).attr("y1", y(p)).attr("y2", y(p)).attr("stroke", "#9aa4a8");
  const lab = fmt(p);
  if (lab === "1.3400" || lab === "1.3300") return;
  svg.append("text").attr("x", 1848).attr("y", y(p) + 4.3).attr("font-size", 12.5).attr("fill", "#2a2a4a")
    .text(lab.replace(".", ","));
});
[[lastPrice, "#80d0fa", "#1a1a3a"], [pivotLevel, "#808000", "#1a1aa0"]].forEach(([p, bg, fg]) => {
  svg.append("rect").attr("x", 1846.5).attr("y", y(p) - 7.5).attr("width", 48).attr("height", 15).attr("fill", bg);
  svg.append("text").attr("x", 1848).attr("y", y(p) + 4.3).attr("font-size", 12.5).attr("fill", fg)
    .text(d3.format(".5f")(p).replace(".", ","));
});

// ---------- sub panels frame ----------
[[722, 806], [809, 875], [879, 912]].forEach(([a, b]) => {
  [a, b].forEach(v => svg.append("line").attr("x1", 0).attr("x2", AX).attr("y1", v).attr("y2", v)
    .attr("stroke", "#c6cfcf").attr("stroke-width", 3));
});
[[726, 805], [811, 874], [881, 910]].forEach(([a, b]) => {
  dateLabels.forEach(([i]) => svg.append("line").attr("x1", Math.round(x(i)) + 0.5).attr("x2", Math.round(x(i)) + 0.5)
    .attr("y1", a).attr("y2", b).attr("stroke", gridColor));
  svg.append("line").attr("x1", PR + 0.5).attr("x2", PR + 0.5).attr("y1", a).attr("y2", b).attr("stroke", "#d0d0d8");
  d3.range(a + 3, b, 5.3).forEach(v => svg.append("line").attr("x1", AX - 6).attr("x2", AX)
    .attr("y1", v).attr("y2", v).attr("stroke", "#9aa4a8"));
});

// MACD
const gm = svg.append("g").attr("clip-path", "url(#cMacd)");
gm.append("line").attr("x1", 0).attr("x2", AX).attr("y1", yMacd(0)).attr("y2", yMacd(0)).attr("stroke", "#a8a8a8");
macdHist.forEach((v, i) => {
  if (v === 0) return;
  const col = macdHistGray.includes(i) ? "#c0c0c0" : (v > 0 ? "#00ee00" : "#ff0000");
  const y0 = yMacd(0), y1 = yMacd(v / 10000);
  gm.append("rect").attr("x", x(i) - 3.5).attr("width", 7).attr("y", Math.min(y0, y1))
    .attr("height", Math.max(1.5, Math.abs(y1 - y0))).attr("fill", col);
});
const mgrid = d3.range(0, 155.81, 0.25).map(t => ({t, m: lerpSeries(macdLine, t), f: lerpSeries(macdFast, t)}));
gm.append("path").datum(mgrid).attr("fill", "rgba(120,240,120,0.8)")
  .attr("d", d3.area().x(d => x(d.t)).y0(d => yMacd(d.m)).y1(d => yMacd(Math.max(d.m, d.f))));
gm.append("path").datum(mgrid).attr("fill", "rgba(232,140,140,0.8)")
  .attr("d", d3.area().x(d => x(d.t)).y0(d => yMacd(d.f)).y1(d => yMacd(Math.max(d.m, d.f))));
const mline = d3.line().x(d => x(d[0])).y(d => yMacd(d[1])).curve(d3.curveMonotoneX);
gm.append("path").datum(macdSignal).attr("fill", "none").attr("stroke", "#808080").attr("stroke-width", 1.2).attr("d", mline);
for (let k = 0; k < mgrid.length - 1; k++) {
  const a = mgrid[k], b = mgrid[k + 1];
  gm.append("line").attr("x1", x(a.t)).attr("x2", x(b.t)).attr("y1", yMacd(a.f)).attr("y2", yMacd(b.f))
    .attr("stroke", a.f >= a.m ? "#00dd00" : "#ff0000").attr("stroke-width", 1.6);
}
gm.append("path").datum(macdLine).attr("fill", "none").attr("stroke", "#0000ff").attr("stroke-width", 1.6).attr("d", mline);
svg.append("text").attr("x", 1848).attr("y", yMacd(0) + 4.3).attr("font-size", 12.5).attr("fill", "#2a2a4a").text("0,0000");

// Stochastic
const gs = svg.append("g").attr("clip-path", "url(#cStoch)");
[70, 30].forEach(v => gs.append("line").attr("x1", 0).attr("x2", PR).attr("y1", yStoch(v)).attr("y2", yStoch(v))
  .attr("stroke", "#808080").attr("stroke-width", 1.3));
for (let k = 0; k < stochSlow.length - 1; k++) {
  const a = stochSlow[k], b = stochSlow[k + 1];
  gs.append("line").attr("x1", x(a[0])).attr("x2", x(b[0])).attr("y1", yStoch(a[1])).attr("y2", yStoch(b[1]))
    .attr("stroke", b[1] >= a[1] ? "#8888ff" : "#ff88ff").attr("stroke-width", 5).attr("stroke-linecap", "round");
}
for (let k = 0; k < stochFast.length - 1; k++) {
  const a = stochFast[k], b = stochFast[k + 1];
  gs.append("line").attr("x1", x(a[0])).attr("x2", x(b[0])).attr("y1", yStoch(a[1])).attr("y2", yStoch(b[1]))
    .attr("stroke", b[1] >= a[1] ? "#00ee00" : "#ff0000").attr("stroke-width", 2).attr("stroke-linecap", "round");
}
svg.append("text").attr("x", 1848).attr("y", yStoch(100) + 4.3).attr("font-size", 12.5).attr("fill", "#2a2a4a").text("100,0000");
[70, 30].forEach(v => {
  svg.append("rect").attr("x", 1847).attr("y", yStoch(v) - 7).attr("width", 15).attr("height", 14).attr("fill", "#808080");
  svg.append("text").attr("x", 1848).attr("y", yStoch(v) + 4.5).attr("font-size", 12.5).attr("fill", "#111").text(v);
});
svg.append("text").attr("x", 1848).attr("y", yStoch(0) + 5.5).attr("font-size", 12.5).attr("fill", "#2a2a4a").text("0.0000");

// Volume
const gv = svg.append("g").attr("clip-path", "url(#cVol)").attr("shape-rendering", "crispEdges");
volume.forEach((v, i) => gv.append("rect").attr("x", Math.round(x(i)) - 3).attr("width", 7)
  .attr("y", yVol(v)).attr("height", yVol(0) - yVol(v)).attr("fill", "#0a5fc0"));
svg.append("text").attr("x", 1830).attr("y", 906).attr("text-anchor", "end").attr("font-size", 13)
  .attr("fill", "#333355").text("FXCM Marketscope © 2016");
svg.append("text").attr("x", 1848).attr("y", 908).attr("font-size", 11).attr("fill", "#2a2a4a").text("0");
</script>
</body>
</html>
